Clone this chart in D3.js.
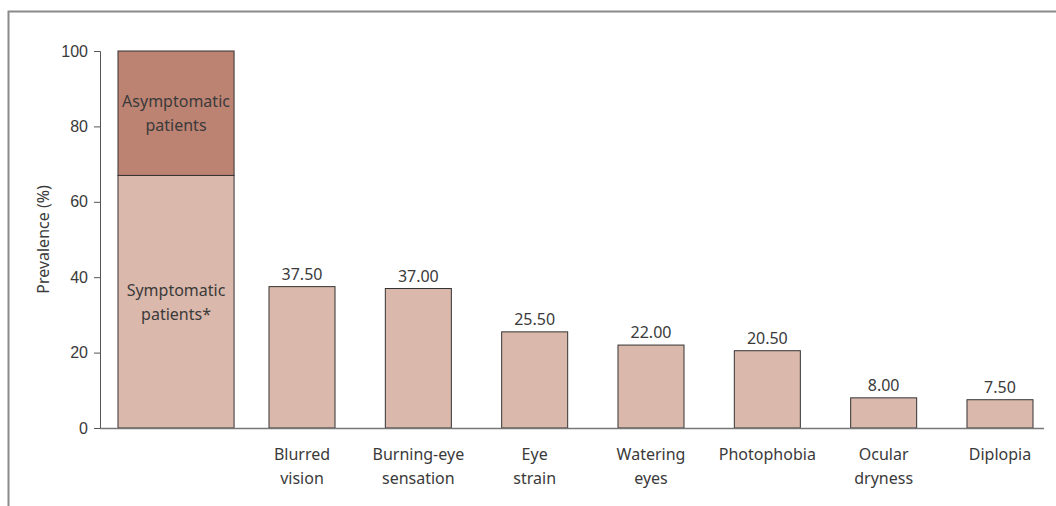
<!DOCTYPE html>
<html>
<head>
<meta charset="utf-8">
<script src="https://cdn.jsdelivr.net/npm/d3@7"></script>
<style>
  html, body { margin: 0; padding: 0; background: #fff; }
  svg { display: block; font-family: "Noto Sans", "Open Sans", sans-serif; }
</style>
</head>
<body>
<div id="app"></div>
<script>
// data
const symptoms = ["Blurred vision", "Burning-eye sensation", "Eye strain", "Watering eyes", "Photophobia", "Ocular dryness", "Diplopia"];
const symptomLabels = [["Blurred", "vision"], ["Burning-eye", "sensation"], ["Eye", "strain"], ["Watering", "eyes"], ["Photophobia"], ["Ocular", "dryness"], ["Diplopia"]];
const prevalence = [37.5, 37.0, 25.5, 22.0, 20.5, 8.0, 7.5];
const totalParts = ["Symptomatic", "Asymptomatic"];
const totalValues = [67, 33];
const totalLabels = [["Symptomatic", "patients*"], ["Asymptomatic", "patients"]];
const yTicks = [0, 20, 40, 60, 80, 100];

const width = 1056;
const height = 506;
const margin = { top: 51, right: 12, bottom: 78, left: 100 };
const innerW = width - margin.left - margin.right;
const innerH = height - margin.top - margin.bottom;

const colorLight = "#dbb8ac";
const colorDark = "#bd8372";
const textColor = "#3a3a3a";

const svg = d3.select("#app")
  .append("svg")
  .attr("width", width)
  .attr("height", height);

// frame (top + left edges)
svg.append("path")
  .attr("d", `M8.5,${height} V11.5 H${width}`)
  .attr("fill", "none")
  .attr("stroke", "#8a8a8a")
  .attr("stroke-width", 2);

const g = svg.append("g").attr("transform", `translate(${margin.left},${margin.top})`);

const y = d3.scaleLinear().domain([0, 100]).range([innerH, 0]);

// symptom bars
const x = d3.scaleBand()
  .domain(symptoms)
  .range([169, 933])
  .paddingInner(0.4325)
  .paddingOuter(0);

// the big stacked bar sits to the left
const xTotal = d3.scaleBand()
  .domain(["All"])
  .range([0, 169])
  .paddingInner(0)
  .paddingOuter(0.228)
  .align(0.34);

// y axis
const yAxis = d3.axisLeft(y).tickValues(yTicks).tickSize(6).tickPadding(6);
const ya = g.append("g").call(yAxis);
ya.select(".domain").attr("stroke", "#555").attr("d", `M-6,0.5H0.5V${innerH}`);
ya.selectAll(".tick line").attr("stroke", "#555");
ya.selectAll(".tick text").attr("fill", textColor).style("font-size", "16px");

g.append("text")
  .attr("transform", `translate(${43 - margin.left},${innerH / 2}) rotate(-90)`)
  .attr("text-anchor", "middle")
  .attr("dominant-baseline", "central")
  .attr("fill", textColor)
  .style("font-size", "16px")
  .text("Prevalence (%)");

// stacked total bar
const stacked = d3.stack().keys(totalParts)([Object.fromEntries(totalParts.map((k, i) => [k, totalValues[i]]))]);
const stackColors = [colorLight, colorDark];

stacked.forEach((layer, i) => {
  const d = layer[0];
  g.append("rect")
    .attr("x", xTotal("All"))
    .attr("y", y(d[1]))
    .attr("width", xTotal.bandwidth())
    .attr("height", y(d[0]) - y(d[1]))
    .attr("fill", stackColors[i])
    .attr("stroke", "#333")
    .attr("stroke-width", 1);

  const cy = (y(d[0]) + y(d[1])) / 2;
  const t = g.append("text")
    .attr("text-anchor", "middle")
    .attr("fill", textColor)
    .style("font-size", "16px");
  totalLabels[i].forEach((line, j) => {
    t.append("tspan")
      .attr("x", xTotal("All") + xTotal.bandwidth() / 2)
      .attr("y", cy + (j - (totalLabels[i].length - 1) / 2) * 24 + 6)
      .text(line);
  });
});

// symptom bars
g.selectAll("rect.bar")
  .data(symptoms)
  .join("rect")
  .attr("class", "bar")
  .attr("x", d => x(d))
  .attr("y", (d, i) => y(prevalence[i]))
  .attr("width", x.bandwidth())
  .attr("height", (d, i) => innerH - y(prevalence[i]))
  .attr("fill", colorLight)
  .attr("stroke", "#333")
  .attr("stroke-width", 1);

g.selectAll("text.val")
  .data(symptoms)
  .join("text")
  .attr("class", "val")
  .attr("x", d => x(d) + x.bandwidth() / 2)
  .attr("y", (d, i) => y(prevalence[i]) - 7)
  .attr("text-anchor", "middle")
  .attr("fill", textColor)
  .style("font-size", "16px")
  .text((d, i) => d3.format(".2f")(prevalence[i]));

// x axis line
g.append("line")
  .attr("x1", 0)
  .attr("x2", 944)
  .attr("y1", innerH + 0.5)
  .attr("y2", innerH + 0.5)
  .attr("stroke", "#777")
  .attr("stroke-width", 1.5);

// category labels
symptoms.forEach((s, i) => {
  const t = g.append("text")
    .attr("text-anchor", "middle")
    .attr("fill", textColor)
    .style("font-size", "16px");
  symptomLabels[i].forEach((line, j) => {
    t.append("tspan")
      .attr("x", x(s) + x.bandwidth() / 2)
      .attr("y", innerH + 32 + j * 24)
      .text(line);
  });
});
</script>
</body>
</html>
